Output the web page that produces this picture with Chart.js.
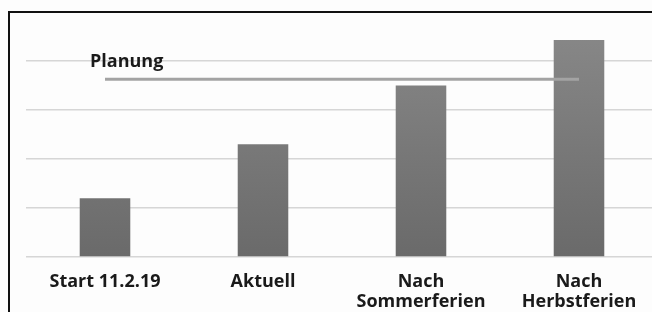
<!DOCTYPE html>
<html lang="de">
<head>
  <meta charset="UTF-8" />
  <title>Planung</title>
  <script src="https://cdn.jsdelivr.net/npm/chart.js"></script>
  <style>
    html, body { margin: 0; padding: 0; background: #fdfdfd; overflow: hidden; }
    .frame {
      position: absolute;
      left: 8px;
      top: 11px;
      width: 700px;
      height: 400px;
      border-left: 2px solid #111;
      border-top: 2px solid #111;
      pointer-events: none;
    }
    #chart { position: absolute; left: 0; top: 0; }
  </style>
</head>
<body>
  <canvas id="chart" width="664" height="312"></canvas>
  <div class="frame"></div>

  <script>
    const categories = ["Start 11.2.19", "Aktuell", ["Nach", "Sommerferien"], ["Nach", "Herbstferien"]];
    const istWerte = [1.2, 2.3, 3.5, 4.43];
    const planWert = 3.63;
    const planWerte = [planWert, planWert, planWert, planWert];
    const planLabel = "Planung";

    const ctx = document.getElementById("chart").getContext("2d");

    // Beschriftung "Planung" über der Linie
    const planLabelPlugin = {
      id: "planLabel",
      afterDatasetsDraw(chart) {
        const x = chart.scales.x.getPixelForValue(0) - 15;
        const y = chart.scales.y.getPixelForValue(planWert) - 17;
        const c = chart.ctx;
        c.save();
        c.font = "bold 18px 'Open Sans', sans-serif";
        c.fillStyle = "#1a1a1a";
        c.textAlign = "left";
        c.textBaseline = "middle";
        c.fillText(planLabel, x, y);
        c.restore();
      }
    };

    function barGradient(context) {
      const area = context.chart.chartArea;
      if (!area) return "#777";
      const g = context.chart.ctx.createLinearGradient(0, area.top, 0, area.bottom);
      g.addColorStop(0, "#8a8a8a");
      g.addColorStop(1, "#6a6a6a");
      return g;
    }

    new Chart(ctx, {
      data: {
        labels: categories,
        datasets: [
          {
            type: "line",
            label: "Planung",
            data: planWerte,
            borderColor: "#a3a3a3",
            borderWidth: 3,
            pointRadius: 0,
            order: 0
          },
          {
            type: "bar",
            label: "Ist",
            data: istWerte,
            backgroundColor: barGradient,
            categoryPercentage: 0.64,
            barPercentage: 0.5,
            order: 1
          }
        ]
      },
      options: {
        responsive: false,
        animation: false,
        layout: { padding: { top: 12, left: 26, right: 6, bottom: 0 } },
        plugins: {
          legend: { display: false },
          tooltip: { enabled: false }
        },
        scales: {
          x: {
            grid: { display: false },
            border: { display: false },
            afterFit(scale) { scale.height = 55; },
            ticks: {
              padding: 7,
              color: "#1a1a1a",
              maxRotation: 0,
              autoSkip: false,
              font: { family: "'Open Sans', sans-serif", size: 18, weight: "bold", lineHeight: 1.1 }
            }
          },
          y: {
            min: 0,
            max: 5,
            afterFit(scale) { scale.width = 0; },
            ticks: { display: false, stepSize: 1 },
            border: { display: false },
            grid: { color: "#d6d6d6", lineWidth: 1.5, drawTicks: false }
          }
        }
      },
      plugins: [planLabelPlugin]
    });
  </script>
</body>
</html>
